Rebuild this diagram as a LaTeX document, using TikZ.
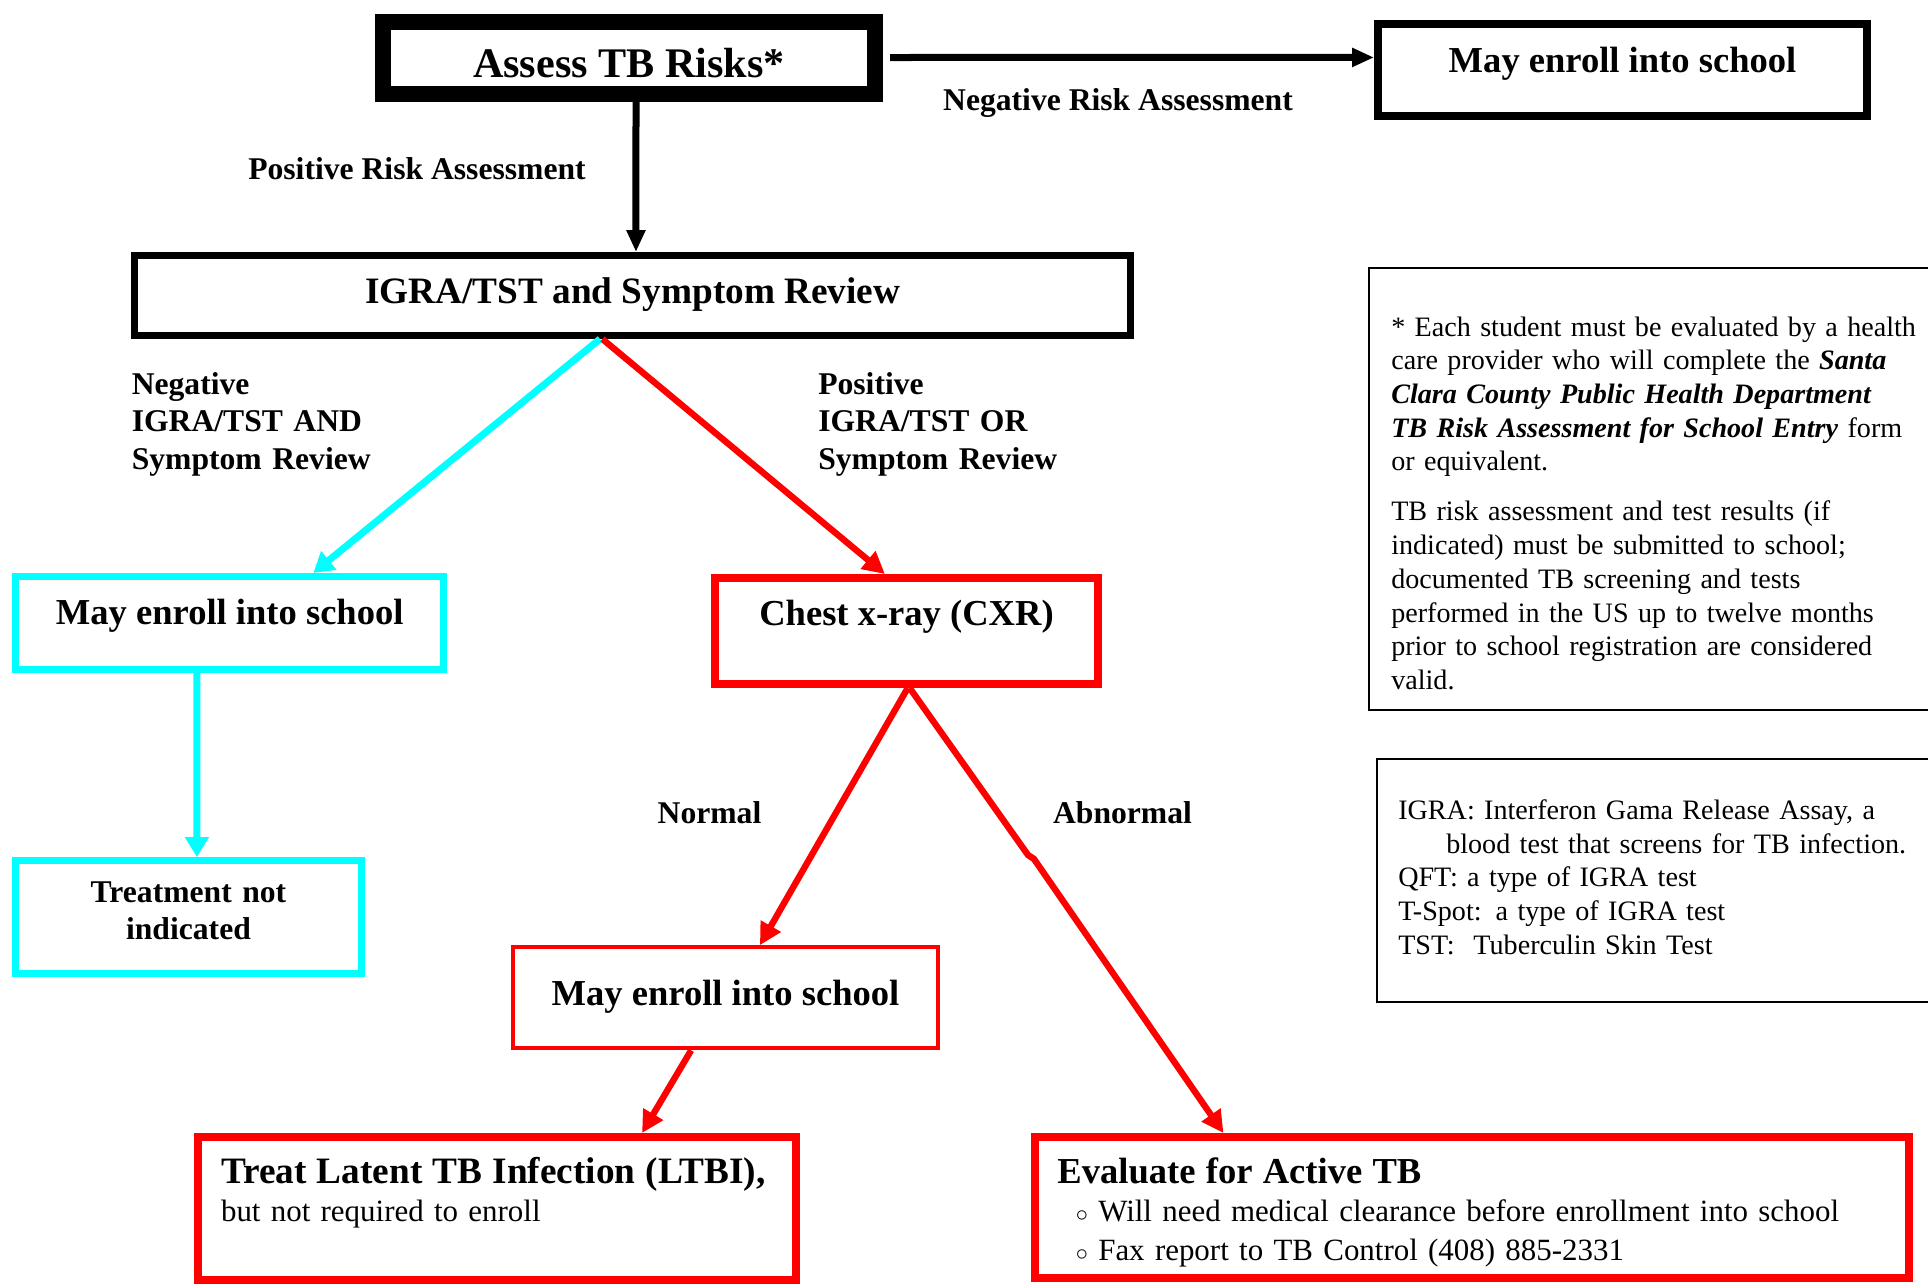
\documentclass[tikz,border=0pt]{standalone}
\usepackage{fontspec}
\setmainfont{Liberation Serif}
\usetikzlibrary{arrows.meta}
\definecolor{tbcyan}{RGB}{0,255,255}
\definecolor{tbred}{RGB}{255,0,0}
\newcommand{\headfont}{\fontsize{26}{30}\selectfont\bfseries}
\newcommand{\labelfont}{\fontsize{22.5}{27}\selectfont\bfseries}
\newcommand{\bodyfont}{\fontsize{22}{27.7}\selectfont}
\newcommand{\notefont}{\fontsize{20}{24}\selectfont}
\newcommand{\smallcirc}{{\fontsize{17}{17}\selectfont$\circ$}}
\tikzset{
  flowbox/.style={draw, rectangle, inner sep=0pt, font=\headfont},
  blackbox/.style={flowbox, line width=2mm},
  cyanbox/.style={flowbox, draw=tbcyan, line width=1.75mm},
  redbox/.style={flowbox, draw=tbred, line width=2mm},
  edgelabel/.style={font=\labelfont, inner sep=0pt},
  blackarrow/.style={draw, line width=1.75mm, -{Triangle[length=5.5mm,width=4.5mm]}},
  cyanarrow/.style={draw=tbcyan, line width=1.75mm, -{Triangle[length=5mm,width=5.75mm]}},
  redarrow/.style={draw=tbred, line width=1.6mm, -{Triangle[length=5.5mm,width=5.5mm]}},
  notetext/.style={font=\notefont, inner sep=0pt, text width=140mm, align=left, anchor=base west},
  noteframe/.style={draw, line width=0.5mm}
}

\begin{document}
\begin{tikzpicture}[x=0.25mm, y=-0.25mm]
  \useasboundingbox (0,0) rectangle (1928,1286);
  \clip (0,0) rectangle (1928,1286);

  % top row
  \node[blackbox, line width=4mm, font=\fontsize{30}{34}\selectfont\bfseries, minimum width=123mm, text height=14.1mm, text depth=3.9mm] (assess) at (629,57.5) {Assess TB Risks*};
  \node[blackbox, minimum width=122.25mm, text height=11.9mm, text depth=11mm] (topSchool) at (1622.5,70.25) {May enroll into school};
  \node[blackbox, line width=1.75mm, font=\fontsize{26.5}{30}\selectfont\bfseries, minimum width=248.9mm, text height=12mm, text depth=8mm] (igra) at (632.75,295.5) {IGRA/TST and Symptom Review};

  % negative branch
  \node[cyanbox, minimum width=107.1mm, text height=11.9mm, text depth=11.25mm] (cyanSchool) at (229.75,622.75) {May enroll into school};
  \node[cyanbox, font=\fontsize{22.5}{26}\selectfont\bfseries, text width=86.5mm, align=center, text height=10.6mm, text depth=17.75mm] (treatNot) at (188.5,917.25) {Treatment not\\indicated};

  % positive branch
  \node[redbox, minimum width=95.75mm, text height=11.9mm, text depth=14.6mm] (chest) at (906.5,631) {Chest x-ray (CXR)};
  \node[redbox, line width=1mm, minimum width=106.1mm, text height=14.6mm, text depth=10.7mm] (midSchool) at (725.5,997.75) {May enroll into school};
  \node[redbox, font=\bodyfont, text width=138.1mm, inner xsep=5.75mm, align=left, text height=11.5mm, text depth=24.25mm] (latent) at (497.25,1208.5) {{\fontsize{26.5}{30}\selectfont\bfseries Treat Latent TB Infection (LTBI),}\\but not required to enroll};
  \node[redbox, font=\bodyfont, text width=207.4mm, inner xsep=5.5mm, align=left, text height=11.5mm, text depth=23.75mm] (evaluate) at (1472.25,1207.5) {{\headfont Evaluate for Active TB}\\\hspace*{4.6mm}\smallcirc\ Will need medical clearance before enrollment into school\\\hspace*{4.6mm}\smallcirc\ Fax report to TB Control (408) 885-2331};

  % labels
  \node[edgelabel, anchor=base] (negRisk) at (1118,110) {Negative Risk Assessment};
  \node[edgelabel, anchor=base] (posRisk) at (417,179) {Positive Risk Assessment};
  \node[edgelabel, text width=60mm, align=left, anchor=base west] (negIgra) at (131.5,394) {Negative\\IGRA/TST AND\\Symptom Review};
  \node[edgelabel, text width=60mm, align=left, anchor=base west] (posIgra) at (818,394) {Positive\\IGRA/TST OR\\Symptom Review};
  \node[edgelabel, anchor=base] (normal) at (709.5,823) {Normal};
  \node[edgelabel, anchor=base] (abnormal) at (1122.5,823) {Abnormal};

  % connectors
  \draw[blackarrow] ([xshift=1.75mm]assess.east) -- ([yshift=3.2mm]topSchool.west);
  \draw[blackarrow] ([xshift=1.75mm]assess.south) -- ([xshift=0.8mm]igra.north);
  \draw[cyanarrow] ([xshift=-8.2mm]igra.south) -- ([xshift=20.9mm]cyanSchool.north);
  \draw[redarrow] ([xshift=-7.6mm]igra.south) -- ([xshift=-5.4mm]chest.north);
  \draw[cyanarrow] ([xshift=-8.2mm]cyanSchool.south) -- ([xshift=2.1mm]treatNot.north);
  \draw[redarrow] ([xshift=0.3mm]chest.south) -- ([xshift=8.6mm]midSchool.north);
  \coordinate (jogA) at (1028,855);
  \coordinate (jogB) at (1034,859);
  \draw[redarrow] ([xshift=0.8mm]chest.south) -- (jogA) -- (jogB) -- ([xshift=-62.2mm]evaluate.north);
  \draw[redarrow] ([xshift=-8.6mm]midSchool.south) -- ([xshift=36.2mm]latent.north);

  % notes
  \node[notetext] (riskNote) at (1391,336) {* Each student must be evaluated by a health\\
    care provider who will complete the \textbf{\textit{Santa}}\\
    \textbf{\textit{Clara County Public Health Department}}\\
    \textbf{\textit{TB Risk Assessment for School Entry}} form\\
    or equivalent.\\[11.5pt]
    TB risk assessment and test results (if\\
    indicated) must be submitted to school;\\
    documented TB screening and tests\\
    performed in the US up to twelve months\\
    prior to school registration are considered\\
    valid.};
  \draw[noteframe] (1940,268) -- (1368.5,268) -- (1368.5,709.5) -- (1940,709.5);

  \node[notetext] (abbrevNote) at (1398,819.5) {IGRA: Interferon Gama Release Assay, a\\
    \hspace*{12mm}blood test that screens for TB infection.\\
    QFT: a type of IGRA test\\
    T-Spot: a type of IGRA test\\
    TST:\ \ Tuberculin Skin Test};
  \draw[noteframe] (1940,758.5) -- (1377,758.5) -- (1377,1002) -- (1940,1002);
\end{tikzpicture}
\end{document}
